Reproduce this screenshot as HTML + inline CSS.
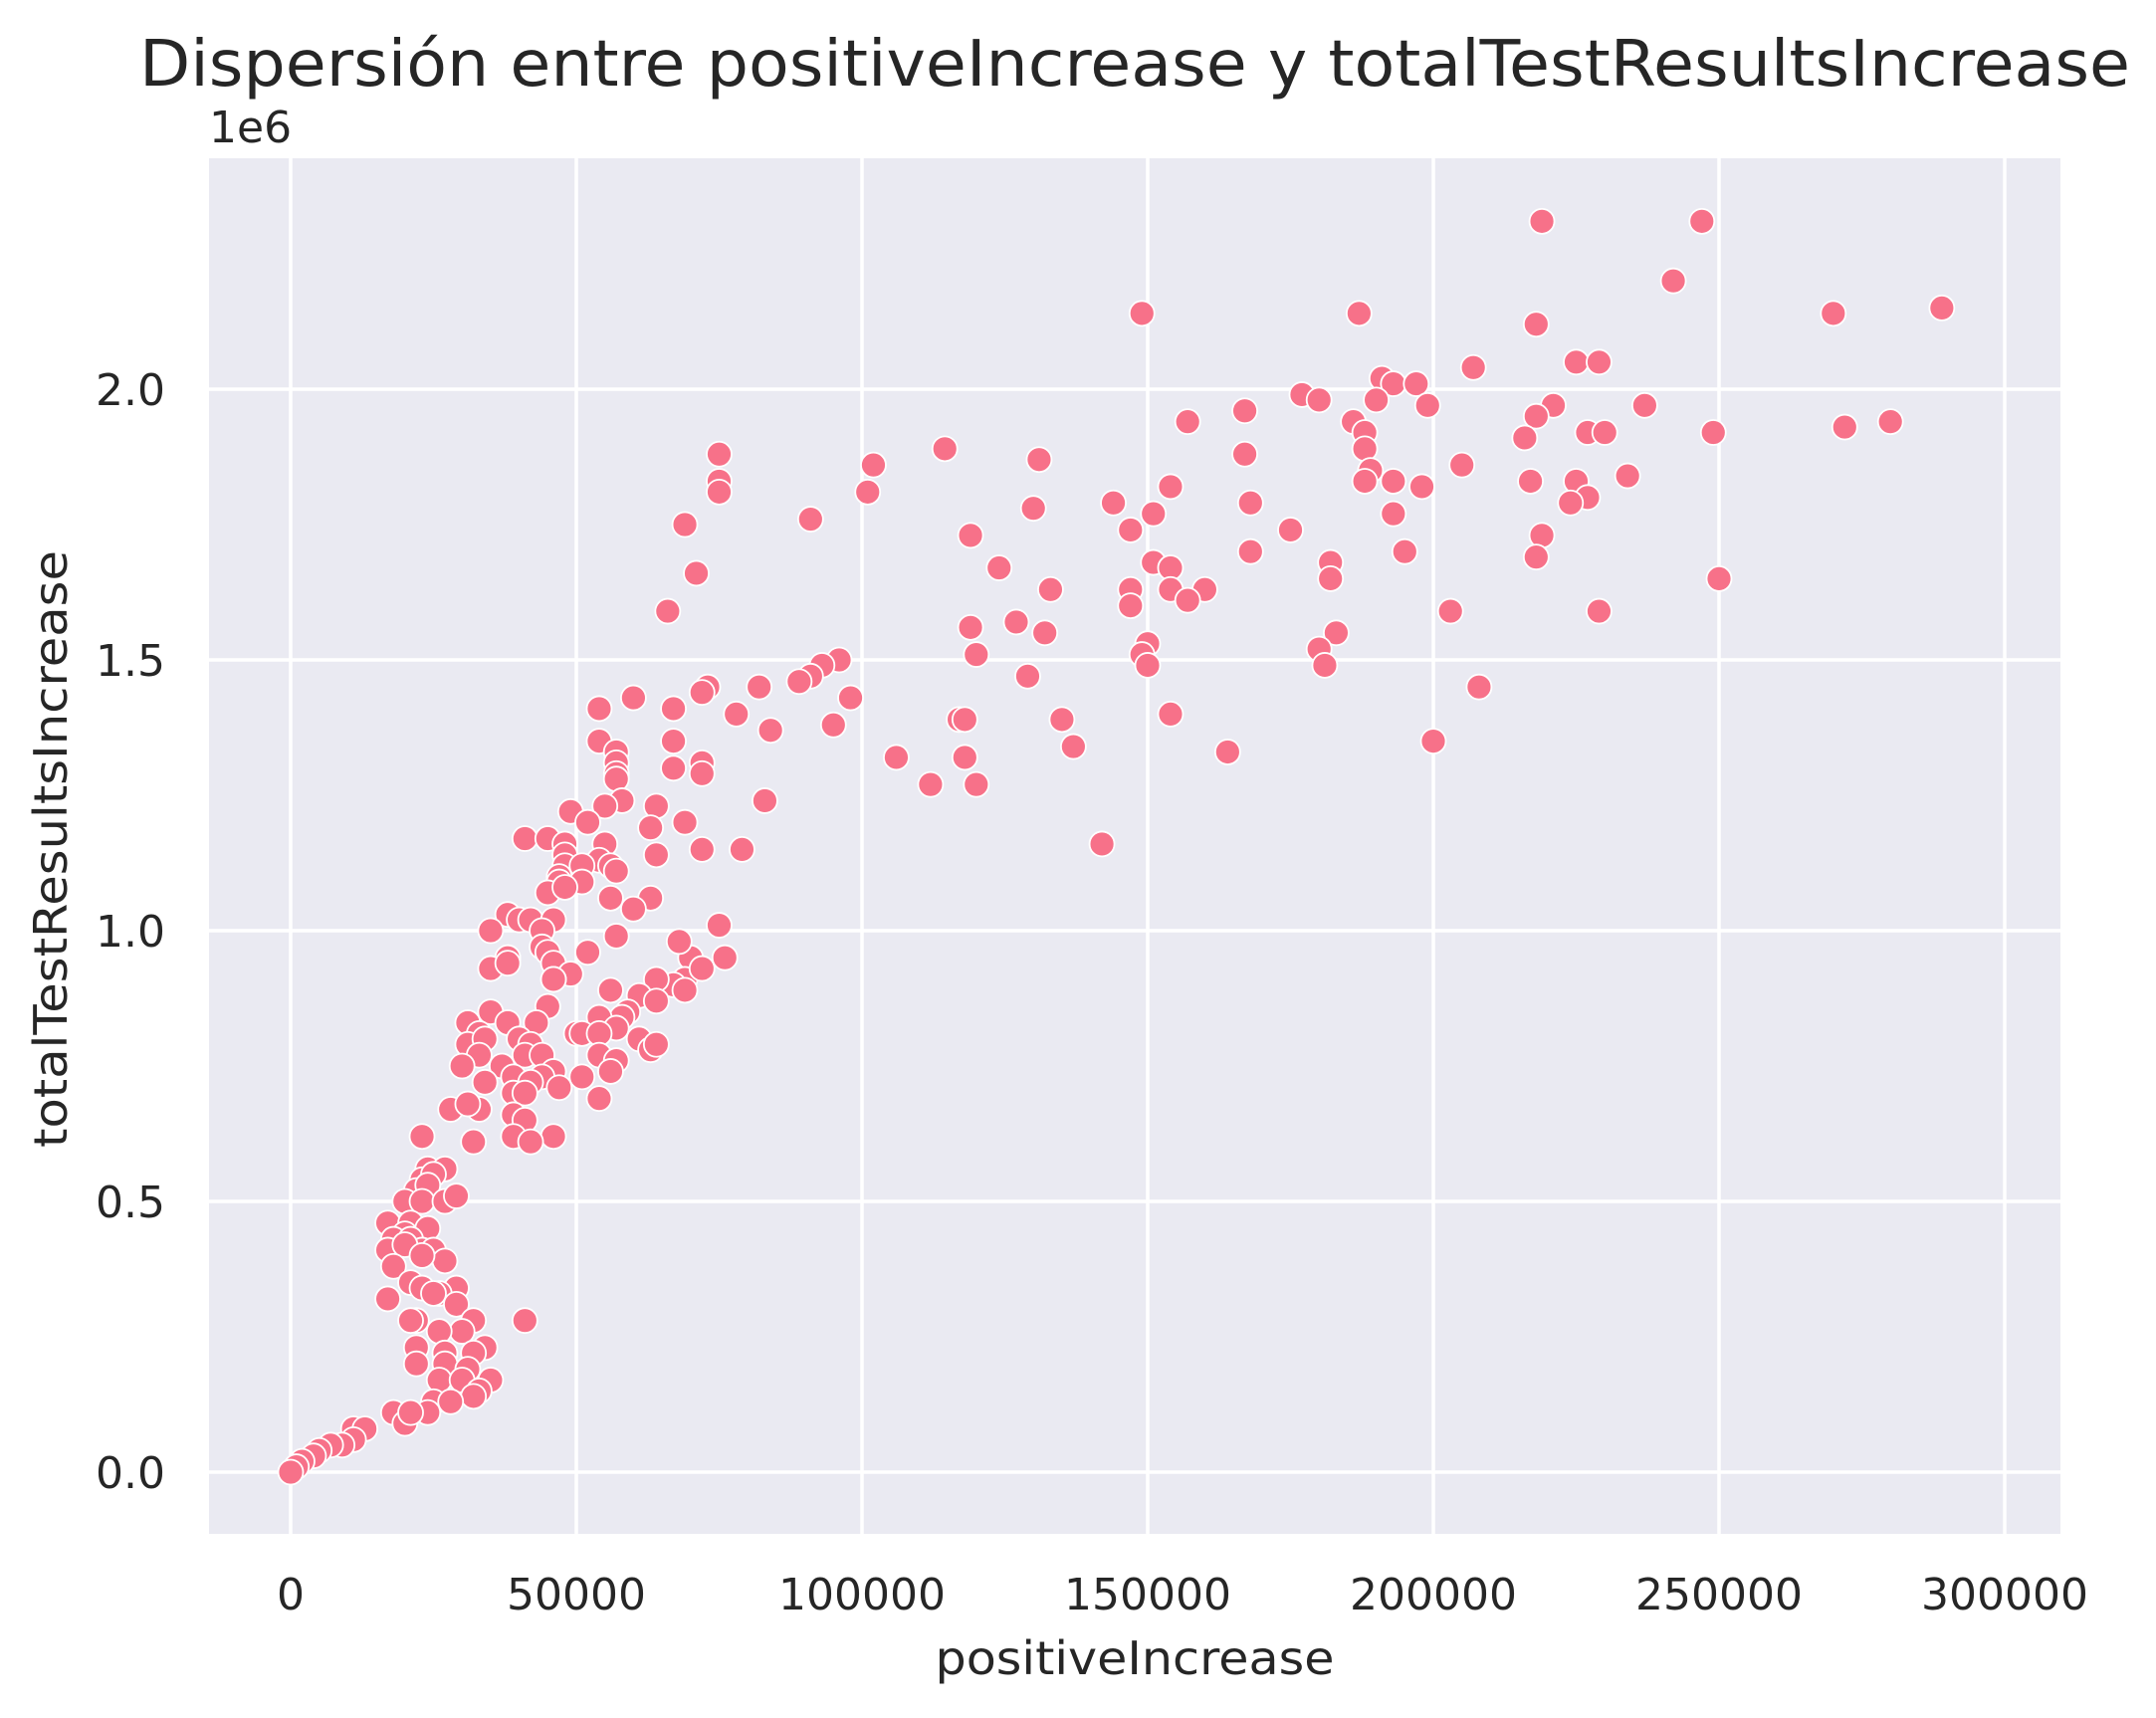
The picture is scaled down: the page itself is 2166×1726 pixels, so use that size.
<!DOCTYPE html>
<html><head><meta charset="utf-8"><style>
html,body{margin:0;padding:0;background:#fff;}
svg text{font-family:"DejaVu Sans","Liberation Sans",sans-serif;fill:#262626;}
</style></head><body>
<svg id="chart" width="2166" height="1721" viewBox="0 0 2166 1721" xmlns="http://www.w3.org/2000/svg">
<rect x="210" y="159" width="1860" height="1382" fill="#EAEAF2"/>
<g id="grid"></g>
<g id="points"></g>
<g id="ticks"></g>
<text x="1140" y="86" font-size="64" text-anchor="middle" textLength="2000" lengthAdjust="spacingAndGlyphs">Dispersión entre positiveIncrease y totalTestResultsIncrease</text>
<text x="210" y="143" font-size="44">1e6</text>
<text x="1140" y="1682" font-size="46" text-anchor="middle" textLength="401" lengthAdjust="spacingAndGlyphs">positiveIncrease</text>
<text x="0" y="0" font-size="46" text-anchor="middle" textLength="600" lengthAdjust="spacingAndGlyphs" transform="translate(67,853) rotate(-90)">totalTestResultsIncrease</text>
</svg>
<script>
const xTicks = [0, 50000, 100000, 150000, 200000, 250000, 300000];
const xTickLabels = ["0", "50000", "100000", "150000", "200000", "250000", "300000"];
const yTicks = [0, 0.5e6, 1.0e6, 1.5e6, 2.0e6];
const yTickLabels = ["0.0", "0.5", "1.0", "1.5", "2.0"];
const positiveIncrease = [219,247,242,149,187,218,270,289,225,229,207,191,193,197,177,180,190,199,167,221,237,218,157,186,188,227,230,272,280,249,216,114.5,75,188,167,131,205,102,189,234,193,217,188,198,75,75,225,227,101,154,144,224,168,91,130,151,193,69,175,147,119,219,168,195,218,151,154,182,124,71,182,250,133,160,154,147,157,147,66,203,229,127,119,132,183,180,150,149,150,120,96,181,93,91,89,129,73,72,82,208,98,60,78,54,67,154,95,117,118,135,84,137,200,164,54,57,67,106,118,72,72,57,57,67,112,120,57,58,83,55,64,49,52,69,41,45,55,48,142,79,72,48,48,64,54,56,51,63,57,47,47,51,45,48,56,63,60,38,40,42,46,75,35,44,57,44,38,38,45,52,70,68,76,35,38,46,49,46,46,69,67,64,72,69,56,61,64,45,59,58,35,54,31,43,38,57,33,50,51,40,31,34,61,54,42,63,64,54,41,44,33,57,30,37,39,46,44,42,34,51,56,47,39,41,54,28,33,31,39,41,32,39,46,42,23,24,27,23,25,22,24,20,23,27,29,17,21,24,20,18,21,17,23,25,20,27,23,18,21,23,29,26,25,17,29,32,22,21,41,30,26,22,34,27,32,22,27,31,35,26,30,33,32,25,28,24,18,20,21,11,13,11,9,7,5,4,2,1,0];
const totalTestResultsIncrease = [2.31,2.31,2.20,2.14,2.14,2.12,2.14,2.15,2.05,2.05,2.04,2.02,2.01,2.01,1.99,1.98,1.98,1.97,1.96,1.97,1.97,1.95,1.94,1.94,1.92,1.92,1.92,1.93,1.94,1.92,1.91,1.89,1.88,1.89,1.88,1.87,1.86,1.86,1.85,1.84,1.83,1.83,1.83,1.82,1.83,1.81,1.83,1.80,1.81,1.82,1.79,1.79,1.79,1.76,1.78,1.77,1.77,1.75,1.74,1.74,1.73,1.73,1.70,1.70,1.69,1.68,1.67,1.68,1.67,1.66,1.65,1.65,1.63,1.63,1.63,1.63,1.61,1.60,1.59,1.59,1.59,1.57,1.56,1.55,1.55,1.52,1.53,1.51,1.49,1.51,1.50,1.49,1.49,1.47,1.46,1.47,1.45,1.44,1.45,1.45,1.43,1.43,1.40,1.41,1.41,1.40,1.38,1.39,1.39,1.39,1.37,1.34,1.35,1.33,1.35,1.33,1.35,1.32,1.32,1.31,1.29,1.31,1.29,1.30,1.27,1.27,1.28,1.24,1.24,1.23,1.23,1.22,1.20,1.20,1.17,1.17,1.16,1.16,1.16,1.15,1.15,1.14,1.12,1.14,1.13,1.12,1.12,1.19,1.11,1.10,1.09,1.09,1.07,1.08,1.06,1.06,1.04,1.03,1.02,1.02,1.02,1.01,1.00,1.00,0.99,0.97,0.95,0.95,0.96,0.96,0.95,0.98,0.95,0.93,0.94,0.94,0.92,0.91,0.91,0.91,0.90,0.91,0.93,0.89,0.89,0.88,0.87,0.86,0.85,0.84,0.85,0.84,0.83,0.83,0.83,0.82,0.81,0.81,0.81,0.80,0.79,0.80,0.80,0.81,0.79,0.78,0.79,0.77,0.77,0.77,0.77,0.76,0.75,0.75,0.73,0.74,0.73,0.72,0.72,0.73,0.74,0.71,0.70,0.70,0.69,0.67,0.67,0.68,0.66,0.65,0.61,0.62,0.62,0.61,0.62,0.56,0.56,0.54,0.55,0.52,0.53,0.50,0.50,0.50,0.51,0.46,0.46,0.45,0.44,0.43,0.43,0.41,0.41,0.41,0.42,0.39,0.40,0.38,0.35,0.34,0.34,0.33,0.33,0.32,0.31,0.28,0.28,0.28,0.28,0.26,0.26,0.23,0.23,0.22,0.22,0.20,0.20,0.19,0.17,0.17,0.17,0.15,0.14,0.13,0.13,0.11,0.11,0.09,0.11,0.08,0.08,0.06,0.05,0.05,0.04,0.03,0.02,0.01,0];
const NS = "http://www.w3.org/2000/svg";
function xScale(v){ return 292 + v / 100000 * 574; }
function yScale(v){ return 1479 - v / 500000 * 272; }
const grid = document.getElementById('grid');
const ticks = document.getElementById('ticks');
xTicks.forEach((t, i) => {
  const l = document.createElementNS(NS, 'line');
  l.setAttribute('x1', xScale(t)); l.setAttribute('x2', xScale(t));
  l.setAttribute('y1', 159); l.setAttribute('y2', 1541);
  l.setAttribute('stroke', '#fff'); l.setAttribute('stroke-width', 3.5);
  
  
  grid.appendChild(l);
  const tx = document.createElementNS(NS, 'text');
  tx.setAttribute('x', xScale(t)); tx.setAttribute('y', 1617);
  tx.setAttribute('font-size', 44); tx.setAttribute('text-anchor', 'middle');
  tx.textContent = xTickLabels[i];
  
  
  ticks.appendChild(tx);
});
yTicks.forEach((t, i) => {
  const l = document.createElementNS(NS, 'line');
  l.setAttribute('x1', 210); l.setAttribute('x2', 2070);
  l.setAttribute('y1', yScale(t)); l.setAttribute('y2', yScale(t));
  l.setAttribute('stroke', '#fff'); l.setAttribute('stroke-width', 3.5);
  
  
  grid.appendChild(l);
  const tx = document.createElementNS(NS, 'text');
  tx.setAttribute('x', 166); tx.setAttribute('y', yScale(t) + 16);
  tx.setAttribute('font-size', 44); tx.setAttribute('text-anchor', 'end');
  tx.textContent = yTickLabels[i];
  
  
  ticks.appendChild(tx);
});
const pts = document.getElementById('points');
positiveIncrease.forEach((x, i) => {
  const c = document.createElementNS(NS, 'circle');
  c.setAttribute('cx', xScale(x * 1000));
  c.setAttribute('cy', yScale(totalTestResultsIncrease[i] * 1e6));
  c.setAttribute('r', 12.5);
  c.setAttribute('fill', '#F77189');
  c.setAttribute('stroke', '#fff'); c.setAttribute('stroke-width', 1.8);
  
  
  pts.appendChild(c);
});
</script>
</body></html>
